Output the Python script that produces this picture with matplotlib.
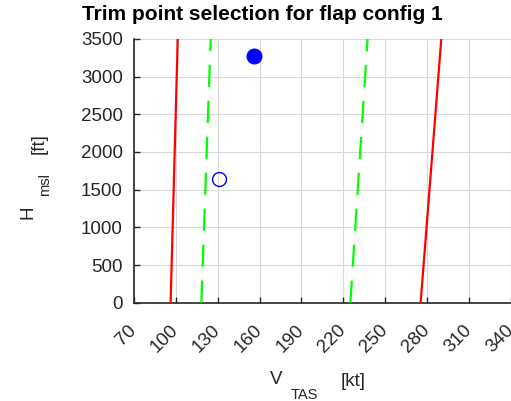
import matplotlib
matplotlib.use('Agg')
import matplotlib.pyplot as plt
import matplotlib.transforms as mtransforms
import numpy as np

plt.rcParams['font.family'] = ['Liberation Sans', 'DejaVu Sans']

# Envelope boundaries (TAS in kt vs altitude in ft)
alt_bounds = [0, 3500]
red_low = [96.3, 101.4]
red_high = [275.3, 290.1]
green_low = [118.3, 125.0]
green_high = [225.0, 237.3]

# Trim points
trim_sel_v = [156.1]
trim_sel_h = [3270]
trim_cand_v = [131.0]
trim_cand_h = [1640]

x_ticks = np.arange(70, 341, 30)
y_ticks = np.arange(0, 3501, 500)

W, H = 511, 401
fig = plt.figure(figsize=(W / 100, H / 100), dpi=100)
ax = fig.add_axes([0.262, 0.245, 0.738, 0.658])

ax.plot(red_low, alt_bounds, color='#ff0000', lw=1.6, zorder=3)
ax.plot(red_high, alt_bounds, color='#ff0000', lw=1.6, zorder=3)
ax.plot(green_low, alt_bounds, color='#00ff00', lw=1.6, dashes=(10, 6.2), zorder=3)
ax.plot(green_high, alt_bounds, color='#00ff00', lw=1.6, dashes=(10, 6.2), zorder=3)

ax.plot(trim_sel_v, trim_sel_h, 'o', color='#0000ff', ms=10.5, zorder=4)
ax.plot(trim_cand_v, trim_cand_h, 'o', mfc='none', mec='#0000ff', mew=1.0, ms=10, zorder=4)

ax.set_xlim(70, 340)
ax.set_ylim(0, 3500)
ax.set_xticks(x_ticks)
ax.set_yticks(y_ticks)
ax.set_xticklabels([str(v) for v in x_ticks], rotation=45, ha='right',
                   va='center', rotation_mode='anchor')
# nudge rotated labels a little right, like MATLAB places them
shift = mtransforms.ScaledTranslation(3 / 100, 0, fig.dpi_scale_trans)
for lbl in ax.get_xticklabels():
    lbl.set_transform(lbl.get_transform() + shift)

ax.grid(True, color='#d9d9d9', lw=0.8)
ax.set_axisbelow(True)
for s in ['top', 'right']:
    ax.spines[s].set_visible(False)
for s in ['left', 'bottom']:
    ax.spines[s].set_color('#262626')
    ax.spines[s].set_linewidth(1.2)

ax.tick_params(axis='both', direction='in', length=4, width=1, colors='#262626',
               labelsize=13.5, labelcolor='#262626')
ax.tick_params(axis='x', pad=18)
ax.tick_params(axis='y', pad=8)


def px(x, y):
    return x / W, 1 - y / H


# axis labels in MATLAB tex style (low, big subscripts)
lab = dict(color='#262626', ha='center', va='center')
fig.text(*px(276.5, 380), 'V', fontsize=13.5, **lab)
fig.text(*px(304, 395), 'TAS', fontsize=10.5, **lab)
fig.text(*px(353.5, 381), '[kt]', fontsize=13.5, **lab)

fig.text(*px(28.5, 212), 'H', fontsize=13.5, rotation=90, **lab)
fig.text(*px(45, 184), 'msl', fontsize=10.5, rotation=90, **lab)
fig.text(*px(39, 144), '[ft]', fontsize=13.5, rotation=90, **lab)

fig.text(*px(262, 15), 'Trim point selection for flap config 1', ha='center',
         va='center', fontsize=15, fontweight='bold')

fig.savefig('out.png', dpi=100)
